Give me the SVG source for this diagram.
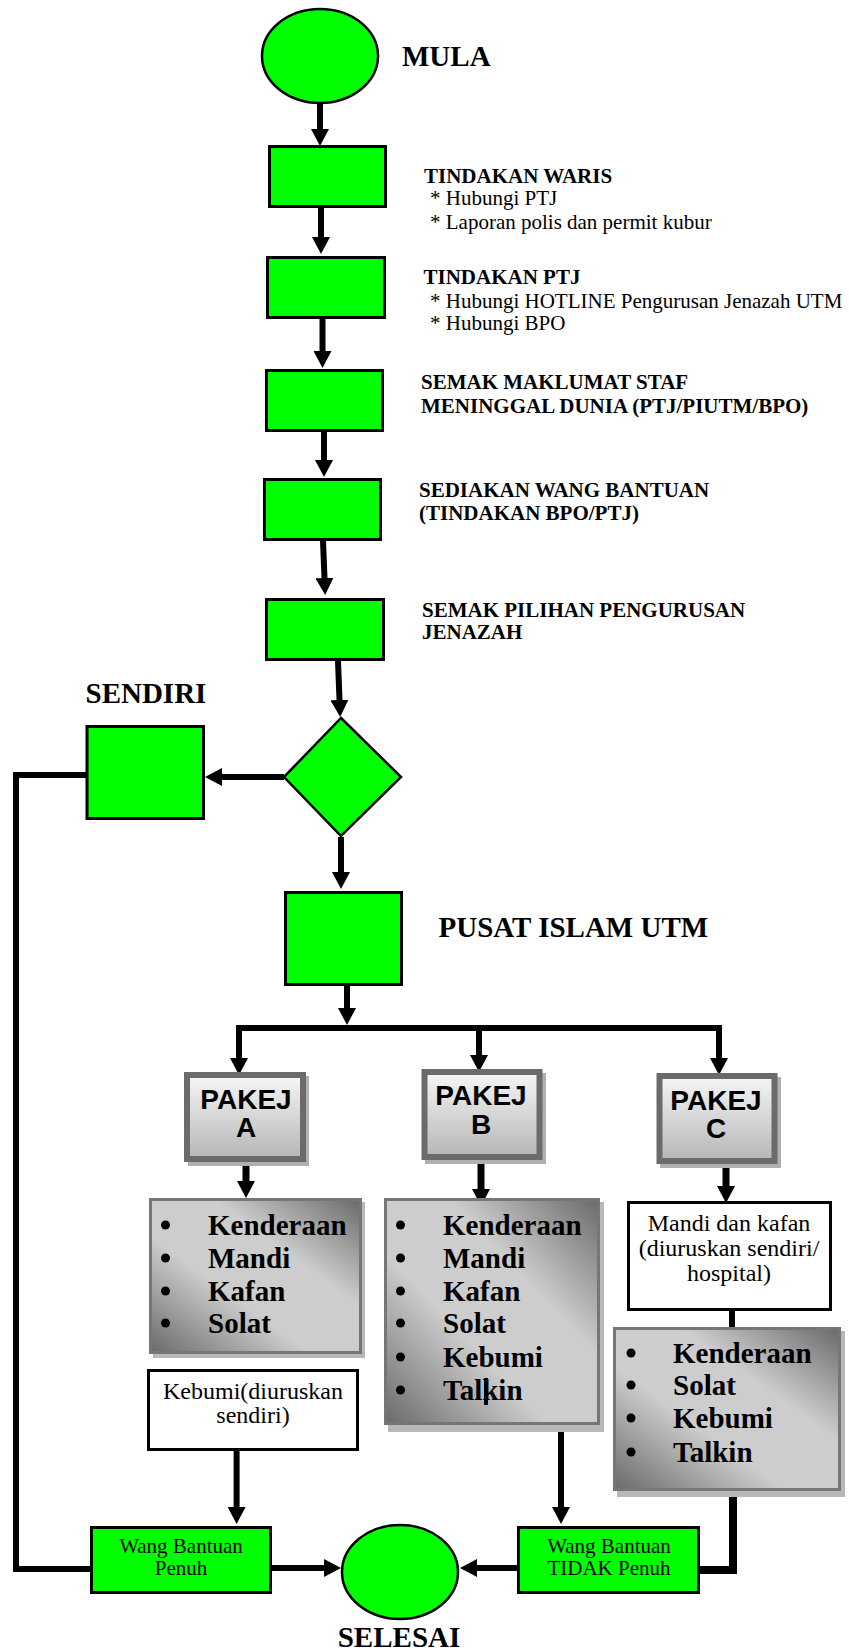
<svg xmlns="http://www.w3.org/2000/svg" width="849" height="1651" viewBox="0 0 849 1651">
<style>
.g{fill:#00ff00;stroke:#000;stroke-width:3}
.el{fill:#00ff00;stroke:#000;stroke-width:2.5}
.w{fill:#fff;stroke:#000;stroke-width:3}
.c{fill:none;stroke:#000;stroke-width:6}
.ca{fill:none;stroke:#000;stroke-width:6;marker-end:url(#ah)}
.cb{fill:none;stroke:#000;stroke-width:7;marker-end:url(#ah)}
.pk{fill:url(#pkg);stroke:#6b6b6b;stroke-width:6}
.pks{fill:#b0b0b0}
.ls{fill:url(#lg);stroke:#767676;stroke-width:3}
.lss{fill:#b8b8b8}
.h{font-family:"Liberation Serif","Times New Roman",serif;font-weight:bold;font-size:21px;fill:#000}
.big{font-family:"Liberation Serif","Times New Roman",serif;font-weight:bold;font-size:29px;fill:#000}
.t{font-family:"Liberation Serif","Times New Roman",serif;font-size:21px;fill:#000}
.tb{font-family:"Liberation Serif","Times New Roman",serif;font-size:24px;fill:#000;text-anchor:middle}
.tg{font-family:"Liberation Serif","Times New Roman",serif;font-size:21px;fill:#000;text-anchor:middle}
.it{font-family:"Liberation Serif","Times New Roman",serif;font-weight:bold;font-size:29px;fill:#000}
.pt{font-family:"Liberation Sans",Arial,sans-serif;font-weight:bold;font-size:28px;fill:#000;text-anchor:middle}
</style>
<defs>
<marker id="ah" viewBox="0 -9 17 18" refX="0" refY="0" markerWidth="17" markerHeight="18" markerUnits="userSpaceOnUse" orient="auto">
<path d="M0,-9 L17,0 L0,9 z" fill="#000"/>
</marker>
<linearGradient id="pkg" x1="0" y1="0" x2="0" y2="1">
<stop offset="0" stop-color="#f6f6f6"/>
<stop offset="1" stop-color="#b6b6b6"/>
</linearGradient>
<linearGradient id="lg" x1="1" y1="0" x2="0" y2="1">
<stop offset="0" stop-color="#6a6a6a"/>
<stop offset="0.35" stop-color="#cdcdcd"/>
<stop offset="0.62" stop-color="#cdcdcd"/>
<stop offset="1" stop-color="#6a6a6a"/>
</linearGradient>
</defs>

<g id="connectors">
<line class="ca" x1="320" y1="102" x2="320" y2="129"/>
<line class="ca" x1="321" y1="208" x2="321" y2="237"/>
<line class="ca" x1="322.5" y1="319" x2="322.5" y2="351"/>
<line class="ca" x1="324" y1="432" x2="324" y2="460"/>
<line class="ca" x1="323" y1="541" x2="324.5" y2="578"/>
<line class="ca" x1="338" y1="661" x2="339.5" y2="700"/>
<line class="ca" x1="284" y1="777" x2="222" y2="777"/>
<line class="ca" x1="341" y1="837" x2="341" y2="872"/>
<line class="ca" x1="347" y1="986" x2="347" y2="1008"/>
<path class="c" d="M237,1028 H722"/>
<line class="ca" x1="239" y1="1025" x2="239" y2="1058"/>
<line class="ca" x1="479" y1="1025" x2="479" y2="1055"/>
<line class="ca" x1="719" y1="1025" x2="719" y2="1058"/>
<line class="cb" x1="246" y1="1160" x2="246" y2="1181"/>
<line class="cb" x1="481" y1="1160" x2="481" y2="1189"/>
<line class="cb" x1="726" y1="1164" x2="726" y2="1186"/>
<line class="c" x1="732" y1="1311" x2="732" y2="1327"/>
<line class="ca" x1="236.6" y1="1451" x2="236.6" y2="1507"/>
<line class="ca" x1="561" y1="1432" x2="561" y2="1507"/>
<line class="ca" x1="272" y1="1568" x2="324" y2="1568"/>
<line class="ca" x1="517" y1="1568" x2="477" y2="1568"/>
<path class="c" d="M86,775 H16 V1569 H91"/>
<path class="c" d="M733,1497 V1570 H699" style="stroke-width:8"/>
</g>

<g id="mula">
<ellipse class="el" cx="320" cy="56" rx="58" ry="47"/>
<text class="big" x="402" y="66">MULA</text>
</g>

<g id="tindakan-waris">
<rect class="g" x="269.5" y="146.5" width="116" height="60"/>
<text class="h" x="424" y="183">TINDAKAN WARIS</text>
<text class="t" x="430" y="205">* Hubungi PTJ</text>
<text class="t" x="430" y="229">* Laporan polis dan permit kubur</text>
</g>

<g id="tindakan-ptj">
<rect class="g" x="267.5" y="257.5" width="117" height="60"/>
<text class="h" x="423.5" y="284">TINDAKAN PTJ</text>
<text class="t" x="430" y="308">* Hubungi HOTLINE Pengurusan Jenazah UTM</text>
<text class="t" x="430" y="330">* Hubungi BPO</text>
</g>

<g id="semak-maklumat">
<rect class="g" x="266.5" y="370.5" width="116" height="60"/>
<text class="h" x="421" y="389">SEMAK MAKLUMAT STAF</text>
<text class="h" x="421" y="413">MENINGGAL DUNIA (PTJ/PIUTM/BPO)</text>
</g>

<g id="sediakan-wang">
<rect class="g" x="264.5" y="479.5" width="116" height="60"/>
<text class="h" x="419" y="497">SEDIAKAN WANG BANTUAN</text>
<text class="h" x="419" y="520">(TINDAKAN BPO/PTJ)</text>
</g>

<g id="semak-pilihan">
<rect class="g" x="266.5" y="599.5" width="117" height="60"/>
<text class="h" x="422" y="617">SEMAK PILIHAN PENGURUSAN</text>
<text class="h" x="422" y="639">JENAZAH</text>
</g>

<g id="keputusan">
<polygon class="el" points="341,718 401,777 341,836 284,777"/>
</g>

<g id="sendiri">
<rect class="g" x="87" y="726.5" width="116.5" height="92"/>
<text class="big" x="85.5" y="703">SENDIRI</text>
</g>

<g id="pusat-islam">
<rect class="g" x="285.5" y="892.5" width="116" height="92"/>
<text class="big" x="438.5" y="937">PUSAT ISLAM UTM</text>
</g>

<g id="pakej-a">
<rect class="pks" x="188" y="1076" width="121" height="90"/>
<rect class="pk" x="187" y="1075" width="116" height="84"/>
<text class="pt" x="246" y="1109">PAKEJ</text>
<text class="pt" x="246" y="1137">A</text>
</g>

<g id="pakej-b">
<rect class="pks" x="425" y="1073" width="121" height="91"/>
<rect class="pk" x="424.5" y="1072" width="115" height="85"/>
<text class="pt" x="481" y="1105">PAKEJ</text>
<text class="pt" x="481" y="1134">B</text>
</g>

<g id="pakej-c">
<rect class="pks" x="660" y="1077" width="121" height="91"/>
<rect class="pk" x="659.5" y="1076" width="115" height="85"/>
<text class="pt" x="716" y="1110">PAKEJ</text>
<text class="pt" x="716" y="1138">C</text>
</g>

<g id="senarai-a">
<rect class="lss" x="153" y="1202" width="212" height="156"/>
<rect class="ls" x="150.5" y="1199.5" width="210" height="153"/>
<circle cx="165.5" cy="1225" r="4.5"/><text class="it" x="208" y="1235">Kenderaan</text>
<circle cx="165.5" cy="1258" r="4.5"/><text class="it" x="208" y="1268">Mandi</text>
<circle cx="165.5" cy="1291" r="4.5"/><text class="it" x="208" y="1301">Kafan</text>
<circle cx="165.5" cy="1323" r="4.5"/><text class="it" x="208" y="1333">Solat</text>
</g>

<g id="senarai-b">
<rect class="lss" x="388" y="1202" width="216" height="230"/>
<rect class="ls" x="385.5" y="1199.5" width="213" height="224"/>
<circle cx="400.5" cy="1225" r="4.5"/><text class="it" x="443" y="1235">Kenderaan</text>
<circle cx="400.5" cy="1258" r="4.5"/><text class="it" x="443" y="1268">Mandi</text>
<circle cx="400.5" cy="1291" r="4.5"/><text class="it" x="443" y="1301">Kafan</text>
<circle cx="400.5" cy="1323" r="4.5"/><text class="it" x="443" y="1333">Solat</text>
<circle cx="400.5" cy="1357" r="4.5"/><text class="it" x="443" y="1367">Kebumi</text>
<circle cx="400.5" cy="1390" r="4.5"/><text class="it" x="443" y="1400">Talkin</text>
<rect x="484" y="1378" width="4" height="27" fill="#000"/>
</g>

<g id="mandi-kafan">
<rect class="w" x="628.5" y="1202.5" width="202" height="107"/>
<text class="tb" x="729" y="1231">Mandi dan kafan</text>
<text class="tb" x="729" y="1256">(diuruskan sendiri/</text>
<text class="tb" x="729" y="1281">hospital)</text>
</g>

<g id="senarai-c">
<rect class="lss" x="617" y="1331" width="228" height="166"/>
<rect class="ls" x="614.5" y="1328.5" width="225" height="161"/>
<circle cx="631" cy="1353" r="4.5"/><text class="it" x="673" y="1363">Kenderaan</text>
<circle cx="631" cy="1385" r="4.5"/><text class="it" x="673" y="1395">Solat</text>
<circle cx="631" cy="1418" r="4.5"/><text class="it" x="673" y="1428">Kebumi</text>
<circle cx="631" cy="1452" r="4.5"/><text class="it" x="673" y="1462">Talkin</text>
</g>

<g id="kebumi-sendiri">
<rect class="w" x="148.5" y="1370.5" width="209" height="79"/>
<text class="tb" x="253" y="1399">Kebumi(diuruskan</text>
<text class="tb" x="253" y="1423">sendiri)</text>
</g>

<g id="wang-penuh">
<rect class="g" x="91.5" y="1527.5" width="179" height="65"/>
<text class="tg" x="181" y="1553">Wang Bantuan</text>
<text class="tg" x="181" y="1575">Penuh</text>
</g>

<g id="wang-tidak-penuh">
<rect class="g" x="518.5" y="1527.5" width="180" height="65"/>
<text class="tg" x="609" y="1553">Wang Bantuan</text>
<text class="tg" x="609" y="1575">TIDAK Penuh</text>
</g>

<g id="selesai">
<ellipse class="el" cx="400" cy="1572" rx="58" ry="47"/>
<text class="big" x="399" y="1647" text-anchor="middle">SELESAI</text>
</g>
</svg>
